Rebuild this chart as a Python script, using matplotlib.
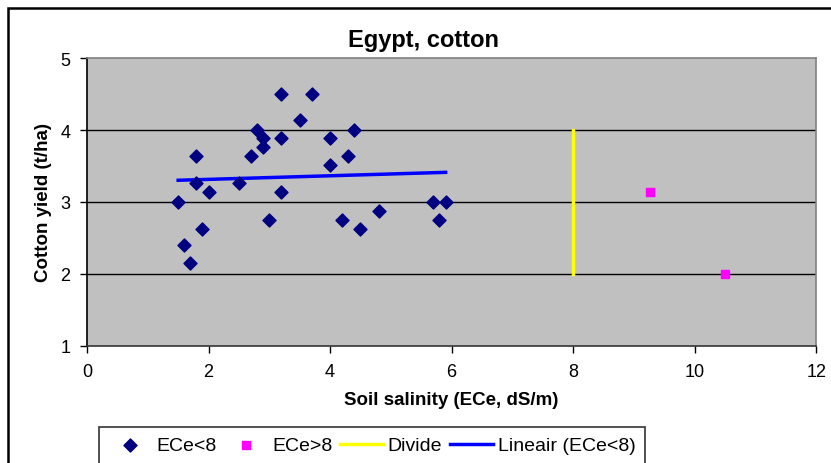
import matplotlib.pyplot as plt
import numpy as np
from matplotlib.patches import Rectangle

plt.rcParams['font.family'] = ['Liberation Sans', 'DejaVu Sans']

# ECe < 8 observations (soil salinity dS/m, cotton yield t/ha)
ece_low = [1.5, 1.6, 1.7, 1.8, 1.8, 1.9, 2.0, 2.5, 2.7, 2.8, 2.9, 2.9, 3.0, 3.2,
           3.2, 3.2, 3.5, 3.7, 4.0, 4.0, 4.2, 4.3, 4.4, 4.5, 4.8, 5.7, 5.8, 5.9]
yield_low = [3.0, 2.4, 2.15, 3.64, 3.26, 2.63, 3.14, 3.26, 3.64, 4.0, 3.89, 3.76, 2.75, 4.5,
             3.89, 3.14, 4.14, 4.5, 3.89, 3.51, 2.75, 3.64, 4.0, 2.63, 2.88, 3.0, 2.75, 3.0]

# ECe > 8 observations
ece_high = [9.27, 10.5]
yield_high = [3.14, 2.0]

# divide line
divide_x = [8, 8]
divide_y = [2, 4]

fig = plt.figure(figsize=(8.31, 4.64), dpi=100)
ax = fig.add_axes([0.1047, 0.2522, 0.8776, 0.6206])
ax.set_facecolor('#C0C0C0')

# grid lines first so the marks sit on top
for yv in [2, 3, 4]:
    ax.axhline(yv, color='black', linewidth=1.0, zorder=1)

ax.scatter(ece_low, yield_low, marker='D', s=44, color='#000080', zorder=3, label='ECe<8')
ax.scatter(ece_high, yield_high, marker='s', s=40, color='#FF00FF', zorder=3, label='ECe>8')
ax.plot(divide_x, divide_y, color='#FFFF00', linewidth=2.5, zorder=2, label='Divide')

# linear trend of the ECe<8 points
coef = np.polyfit(ece_low, yield_low, 1)
tx = np.array([min(ece_low), max(ece_low)])
ax.plot(tx, np.polyval(coef, tx), color='#0000FF', linewidth=2.5, zorder=2, label='Lineair (ECe<8)')

ax.set_xlim(0, 12)
ax.set_ylim(1, 5)
ax.set_xticks([0, 2, 4, 6, 8, 10, 12])
ax.set_yticks([1, 2, 3, 4, 5])
ax.tick_params(axis='both', labelsize=13, length=5, width=1, direction='out', pad=7)

ax.spines['left'].set_color('black')
ax.spines['bottom'].set_color('#333333')
ax.spines['top'].set_color('#808080')
ax.spines['right'].set_color('#808080')
for s in ax.spines.values():
    s.set_linewidth(1.2)

ax.set_xlabel('Soil salinity (ECe, dS/m)', fontsize=13.5, fontweight='bold', labelpad=8)
ax.set_ylabel('Cotton yield (t/ha)', fontsize=13.5, fontweight='bold', labelpad=6)
fig.text(0.51, 0.912, 'Egypt, cotton', ha='center', va='center', fontsize=17, fontweight='bold')

leg = ax.legend(loc='upper left', bbox_to_anchor=(99 / 831, 1 - 428 / 464), bbox_transform=fig.transFigure,
                ncol=4, fontsize=14, frameon=True, fancybox=False, edgecolor='black',
                handlelength=2.2, handletextpad=0.25, columnspacing=0.4, borderpad=0.5,
                borderaxespad=0, scatterpoints=1)
leg.get_frame().set_linewidth(1.2)

# outer chart border
fig.patches.append(Rectangle((8 / 831, -0.05), 1.1, 1 - 9 / 464 + 0.05, transform=fig.transFigure,
                             fill=False, edgecolor='black', linewidth=1.8))

plt.savefig('out.png', dpi=100)
